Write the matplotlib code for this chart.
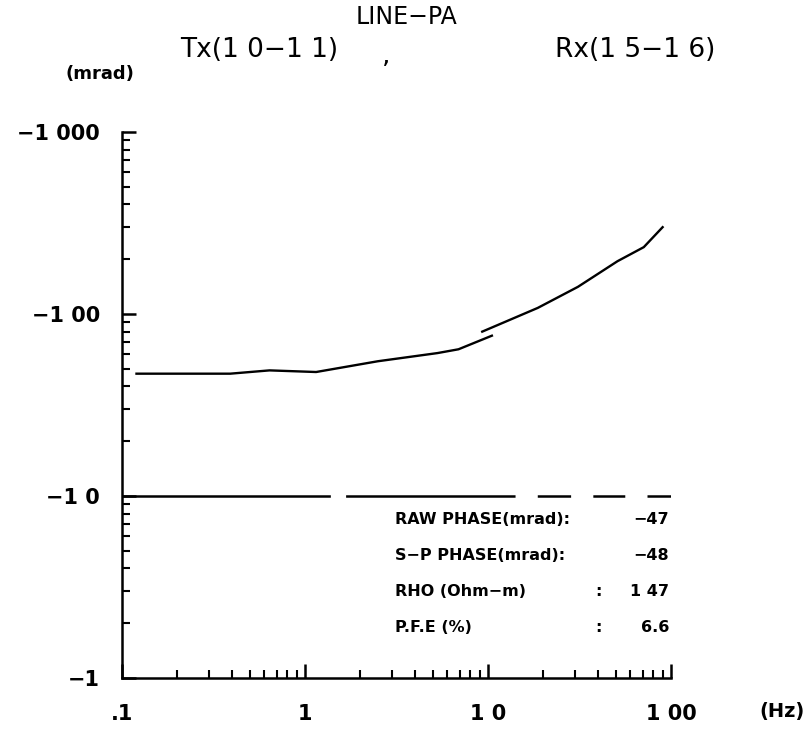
import matplotlib
matplotlib.use("Agg")
import matplotlib.pyplot as plt
from matplotlib.ticker import LogLocator, NullFormatter, FixedLocator

plt.rcParams['font.family'] = ['DejaVu Sans']
plt.rcParams['lines.scale_dashes'] = False

# phase curve, two pieces as plotted (Hz, mrad)
freq_a = [0.12, 0.39, 0.64, 1.15, 2.5, 5.3, 6.9, 10.5]
phase_a = [-47, -47, -49, -48, -55, -61, -64, -76]
freq_b = [9.3, 18.7, 31, 51, 71, 90]
phase_b = [-80, -108, -141, -195, -233, -300]

ref_level = -10
xticks = [0.1, 1, 10, 100]
xlabels = ['.1', '1', '1 0', '1 00']
yticks = [1, 10, 100, 1000]
ylabels = ['\u22121', '\u22121 0', '\u22121 00', '\u22121 000']

info_names = ['RAW PHASE(mrad):', 'S\u2212P PHASE(mrad):', 'RHO (Ohm\u2212m)', 'P.F.E (%)']
info_colons = ['', '', ':', ':']
info_values = ['\u221247', '\u221248', '1 47', '6.6']

fig = plt.figure(figsize=(8.09, 7.33), dpi=100)
ax = fig.add_axes([122 / 809, 1 - 678 / 733, (671 - 122) / 809, (678 - 132) / 733])

# magnitudes on a log axis, labelled negative
ax.plot(freq_a, [-p for p in phase_a], color='black', lw=1.7)
ax.plot(freq_b, [-p for p in phase_b], color='black', lw=1.7)
ax.plot([0.1, 100], [-ref_level, -ref_level], color='black', lw=1.8,
        linestyle=(0, (150, 11, 122, 16, 24, 16, 23, 16, 24, 16)))

ax.set_xscale('log')
ax.set_yscale('log')
ax.set_xlim(0.1, 100)
ax.set_ylim(1, 1000)

for side in ['top', 'right']:
    ax.spines[side].set_visible(False)
for side in ['left', 'bottom']:
    ax.spines[side].set_linewidth(1.8)

ax.xaxis.set_major_locator(FixedLocator(xticks))
ax.yaxis.set_major_locator(FixedLocator(yticks))
ax.xaxis.set_minor_locator(LogLocator(base=10, subs=range(2, 10)))
ax.yaxis.set_minor_locator(LogLocator(base=10, subs=range(2, 10)))
ax.xaxis.set_minor_formatter(NullFormatter())
ax.yaxis.set_minor_formatter(NullFormatter())
ax.set_xticklabels(xlabels)
ax.set_yticklabels(ylabels)
ax.tick_params(which='major', direction='in', length=10, width=1.8,
               labelsize=15)
ax.tick_params(axis='x', which='major', pad=19)
ax.tick_params(axis='y', which='major', pad=16)
ax.tick_params(which='minor', direction='in', length=6, width=1.5)
for t in ax.get_xticklabels() + ax.get_yticklabels():
    t.set_fontweight('bold')

fig.text(782 / 809, 1 - 712 / 733, '(Hz)', ha='center', va='center',
         fontsize=14, fontweight='bold')
fig.text(100 / 809, 1 - 74 / 733, '(mrad)', ha='center', va='center',
         fontsize=13, fontweight='bold')
fig.text(407 / 809, 1 - 17 / 733, 'LINE\u2212PA', ha='center', va='center',
         fontsize=17)
fig.text(180 / 809, 1 - 50 / 733, 'Tx(1 0\u22121 1)', ha='left', va='center',
         fontsize=19)
fig.text(386 / 809, 1 - 56 / 733, ',', ha='center', va='center', fontsize=19)
fig.text(715 / 809, 1 - 50 / 733, 'Rx(1 5\u22121 6)', ha='right', va='center',
         fontsize=19)

for i, (name, colon, val) in enumerate(zip(info_names, info_colons, info_values)):
    y = 1 - (520 + 36 * i) / 733
    fig.text(395 / 809, y, name, ha='left', va='center', fontsize=11.5,
             fontweight='bold')
    if colon:
        fig.text(598 / 809, y, colon, ha='center', va='center', fontsize=11.5,
                 fontweight='bold')
    fig.text(669 / 809, y, val, ha='right', va='center', fontsize=11.5,
             fontweight='bold')

fig.savefig('out.png', dpi=100)
